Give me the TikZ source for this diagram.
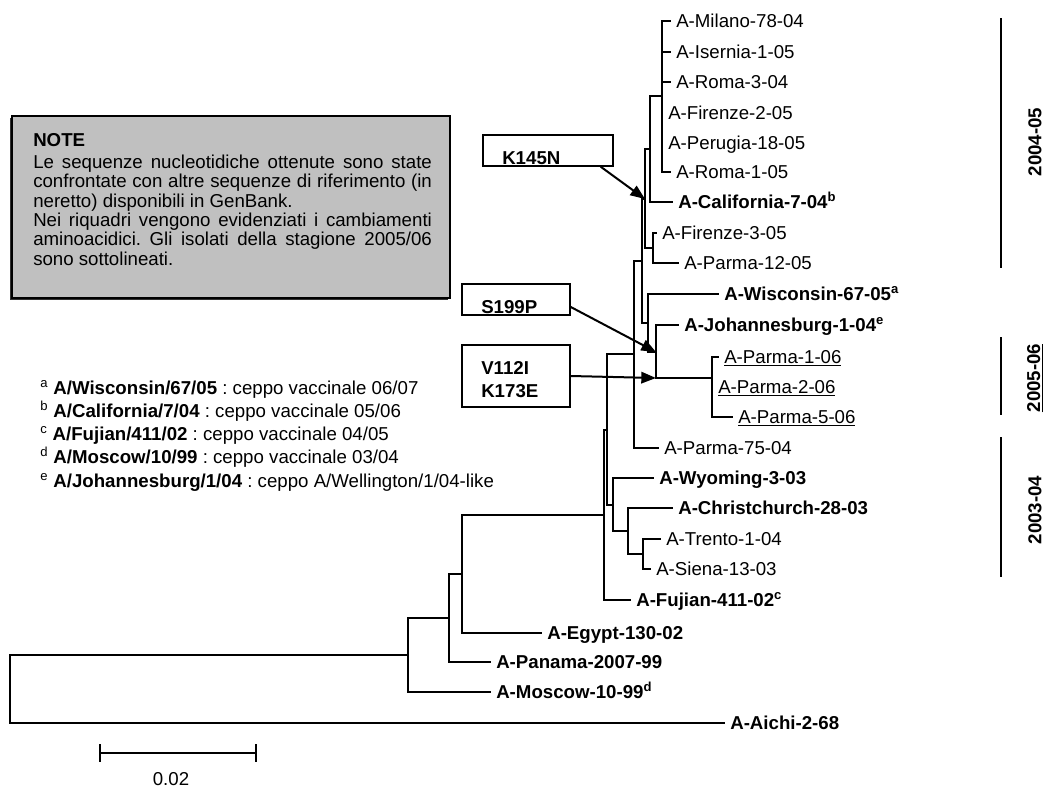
\documentclass[tikz,border=0pt]{standalone}
\usepackage{fontspec}
\setmainfont{Liberation Sans}
\usetikzlibrary{arrows.meta,shadows}

\definecolor{notefill}{HTML}{C0C0C0}
\newlength\notew
\setlength\notew{299pt}
\newcommand\treefont{\fontsize{14pt}{16pt}\selectfont}
\frenchspacing

\tikzset{
  branch/.style={line width=1.2pt, line cap=rect},
  leaf/.style={anchor=west, inner xsep=4.5pt, inner ysep=0pt, text height=10pt, text depth=0pt, font=\treefont},
  refleaf/.style={leaf, font=\treefont\bfseries},
  mutbox/.style={draw, line width=1.1pt, minimum height=23.25pt, inner sep=0pt},
  mutlabel/.style={anchor=west, inner sep=0pt, font=\treefont\bfseries},
  mutarrow/.style={line width=1.5pt, -{Triangle[length=11pt, width=8.5pt]}},
  period/.style={line width=1.2pt},
  notetext/.style={anchor=base west, inner sep=0pt, font=\treefont},
}

\begin{document}
\begin{tikzpicture}[x=0.75pt, y=-0.75pt]
  \useasboundingbox (0,0) rectangle (1046,789);

  % Leaves: name / end of branch / row / label
  \foreach \n/\x/\y/\t in {milano/670/21/A-Milano-78-04, isernia/670/52/A-Isernia-1-05,
      roma3/670/82/A-Roma-3-04, firenze2/662/113/A-Firenze-2-05, perugia/662/143/A-Perugia-18-05,
      roma1/670/172/A-Roma-1-05, firenze3/656/233/A-Firenze-3-05, parma12/678/263/A-Parma-12-05,
      parma75/658/448/A-Parma-75-04, trento/660/539/A-Trento-1-04, siena/650/569/A-Siena-13-03}
    \node [leaf] (\n) at (\x,\y) {\t};

  % Reference strains in bold
  \foreach \n/\x/\y/\t in {california/672/202/{A-California-7-04\textsuperscript{b}},
      wisconsin/718/294/{A-Wisconsin-67-05\textsuperscript{a}},
      johannesburg/678/325/{A-Johannesburg-1-04\textsuperscript{e}},
      wyoming/653/478/A-Wyoming-3-03, christchurch/672/508/A-Christchurch-28-03,
      fujian/630/600/{A-Fujian-411-02\textsuperscript{c}}, egypt/541/633/A-Egypt-130-02,
      panama/490/662/A-Panama-2007-99, moscow/490/692/{A-Moscow-10-99\textsuperscript{d}},
      aichi/724/723/A-Aichi-2-68}
    \node [refleaf] (\n) at (\x,\y) {\t};

  % Season 2005/06 isolates, underlined
  \foreach \n/\x/\y/\t in {parma1/718/357/A-Parma-1-06, parma2/712/387/A-Parma-2-06,
      parma5/732/417/A-Parma-5-06}
    \node [leaf] (\n) at (\x,\y) {\underline{\t}};

  % Internal nodes (x of the vertical line, y where the parent joins)
  \coordinate (nA) at (662,96);
  \coordinate (nB) at (650,149);
  \coordinate (nL) at (653,248);
  \coordinate (nK) at (645,199);
  \coordinate (nS) at (712,378);
  \coordinate (nE) at (656,352);
  \coordinate (nF) at (648,323);
  \coordinate (nJ) at (642,261);
  \coordinate (nI) at (634,354);
  \coordinate (nT) at (643,554);
  \coordinate (nU) at (628,531);
  \coordinate (nG) at (613,505);
  \coordinate (nN) at (607,430);
  \coordinate (nO) at (604,515);
  \coordinate (nQ) at (462,574);
  \coordinate (nP) at (449,618);
  \coordinate (nR) at (408,655);
  \coordinate (root) at (10,689);

  % Branches, parent to child
  \foreach \p/\c in {nA/milano, nA/isernia, nA/roma3, nA/firenze2, nA/perugia, nA/roma1,
      nB/nA, nB/california, nL/firenze3, nL/parma12, nK/nB, nK/nL,
      nS/parma1, nS/parma2, nS/parma5, nE/johannesburg, nE/nS, nF/wisconsin, nF/nE,
      nJ/nK, nJ/nF, nI/nJ, nI/parma75, nT/trento, nT/siena, nU/christchurch, nU/nT,
      nG/wyoming, nG/nU, nN/nI, nN/nG, nO/nN, nO/fujian, nQ/nO, nQ/egypt,
      nP/nQ, nP/panama, nR/nP, nR/moscow, root/nR, root/aichi}
    \draw [branch] (\p) |- (\c);

  % Note
  \node [draw, line width=1.2pt, fill=notefill, minimum width=328.5pt, minimum height=136.5pt,
    inner sep=0pt, drop shadow={shadow xshift=-1.2pt, shadow yshift=-1.2pt, fill=black, opacity=0.8}]
    (notebox) at (231,207) {};
  \node [notetext, font=\treefont\bfseries] (notehead) at (33,146.5) {NOTE};
  \foreach \i/\y/\j/\t in {1/168.5/s/{Le sequenze nucleotidiche ottenute sono state},
      2/187.8/s/{confrontate con altre sequenze di riferimento (in},
      3/207/l/{neretto) disponibili in GenBank.},
      4/226.3/s/{Nei riquadri vengono evidenziati i cambiamenti},
      5/245.6/s/{aminoacidici. Gli isolati della stagione 2005/06},
      6/265/l/{sono sottolineati.}}
    \node [notetext] (note\i) at (33,\y) {\makebox[\notew][\j]{\t}};

  % Amino acid changes
  \node [mutbox, minimum width=97.5pt] (boxK) at (548,150.5) {};
  \node [mutlabel] (k145n) at (502,158) {K145N};
  \node [mutbox, minimum width=81pt] (boxS) at (516,299.5) {};
  \node [mutlabel] (s199p) at (481,307.5) {S199P};
  \node [mutbox, minimum width=81pt, minimum height=46.5pt] (boxV) at (516,376) {};
  \node [mutlabel] (v112i) at (481,367.5) {V112I};
  \node [mutlabel] (k173e) at (481,391) {K173E};
  \draw [mutarrow] ([xshift=-9.75pt]boxK.south east) -- (nK);
  \draw [mutarrow] ([yshift=-5.6pt]boxS.east) -- (nE);
  \draw [mutarrow] (boxV.east) -- (nE |- nS);

  % Vaccine strains
  \foreach \i/\y/\m/\s/\d in {1/394/a/{A/Wisconsin/67/05}/{ceppo vaccinale 06/07},
      2/417/b/{A/California/7/04}/{ceppo vaccinale 05/06},
      3/440/c/{A/Fujian/411/02}/{ceppo vaccinale 04/05},
      4/463/d/{A/Moscow/10/99}/{ceppo vaccinale 03/04},
      5/487/e/{A/Johannesburg/1/04}/{ceppo A/Wellington/1/04-like}}
    \node [notetext] (leg\i) at (40,\y) {\textsuperscript{\m} \textbf{\s} : \d};

  % Seasons
  \draw [period] (1001,18) -- (1001,268);
  \draw [period] (1001,337) -- (1001,415);
  \draw [period] (1001,437) -- (1001,577);
  \node [rotate=90, font=\treefont\bfseries] (s0405) at (1035,142) {2004-05};
  \node [rotate=90, font=\treefont\bfseries] (s0506) at (1035,378) {\underline{2005-06}};
  \node [rotate=90, font=\treefont\bfseries] (s0304) at (1035,510) {2003-04};

  % Scale bar
  \coordinate (sbl) at (100,753);
  \coordinate (sbr) at (256,753);
  \draw [branch] (sbl) -- (sbr);
  \draw [branch] (sbl) ++(0,-8) -- ++(0,16);
  \draw [branch] (sbr) ++(0,-8) -- ++(0,16);
  \node [font=\treefont] (sblabel) at (171,779) {0.02};
\end{tikzpicture}
\end{document}
